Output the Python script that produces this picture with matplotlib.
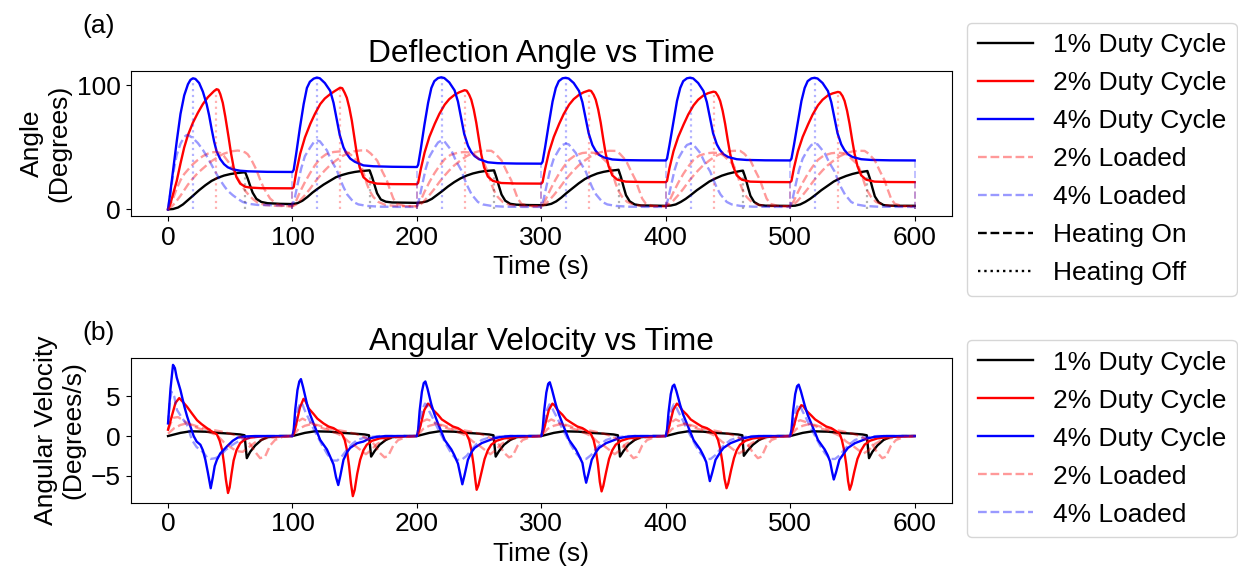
import numpy as np
import matplotlib
matplotlib.use("Agg")
import matplotlib.pyplot as plt
from matplotlib.lines import Line2D

plt.rcParams['font.family'] = ['Liberation Sans', 'DejaVu Sans']
plt.rcParams['font.size'] = 19

# ---------------- data ----------------
cycle_starts = [0, 100, 200, 300, 400, 500]
heat_off_black = 62.0   # s after heating on
heat_off_red = 38.5
heat_off_blue = 20.0

# each series: one list per cycle of (seconds after cycle start, value)
angle_black = [
    [(0,0),(4,0.3),(8,1.5),(12,4),(16,7.5),(20,11),(25,15.5),(30,19.5),(35,23),(40,25.5),(45,27.3),(50,28.5),(55,29.3),(60,29.8),(62,30),(64,25),(66,19),(68,13.5),(71,8.5),(75,6),(80,5),(90,4.5),(98,4.3)],
    [(0,4.3),(4,5),(8,7),(12,10),(16,13.5),(20,16.5),(25,20),(30,23),(35,26),(40,27.8),(45,29.2),(50,30.2),(55,30.9),(60,31.3),(62,31.5),(64,26),(66,19.5),(68,13),(71,8),(75,6.2),(80,5.6),(90,5.4),(98,5.3)],
    [(0,5.3),(4,5.6),(8,6.5),(12,8.5),(16,11.5),(20,14.5),(25,18.5),(30,22),(35,25),(40,27.3),(45,29),(50,30.2),(55,31),(60,31.4),(62,31.5),(64,25.5),(66,18.5),(68,12),(71,7),(75,4.5),(80,3.8),(90,3.5),(98,3.4)],
    [(0,3.4),(4,3.6),(8,4.5),(12,6.5),(16,9.5),(20,13),(25,17),(30,21),(35,24.5),(40,27),(45,29),(50,30.3),(55,31.2),(60,31.7),(62,32),(64,26),(66,18.5),(68,11.5),(71,6.5),(75,4),(80,3.2),(90,3),(98,2.9)],
    [(0,2.9),(4,3.1),(8,4),(12,6),(16,8.5),(20,11.5),(25,15.5),(30,19),(35,22.5),(40,25),(45,27.2),(50,28.8),(55,30),(60,31),(62,31.3),(64,25.5),(66,18),(68,11),(71,6),(75,3.6),(80,3),(90,2.9),(98,2.8)],
    [(0,2.8),(4,3),(8,4),(12,6),(16,8.5),(20,11.5),(25,15.5),(30,19),(35,22.5),(40,25),(45,27),(50,28.6),(55,29.8),(60,30.6),(62,31),(64,25),(66,17.5),(68,10.5),(71,5.8),(75,3.5),(80,3),(90,2.9),(100,2.9)],
]
angle_red = [
    [(0,0),(2,5),(4.5,14),(7,23),(10,37),(13,50),(16,60),(20,70),(24,78),(28,85),(32,90.5),(35,93.5),(37,95.5),(39,97),(40.5,96.5),(42,93),(44,86),(46,75),(48.7,58),(50.5,46),(52.7,34),(55,26),(58,20.8),(62,18.3),(66,17.6),(75,17.1),(98,17)],
    [(0,17),(1,18),(3,30),(6.2,45),(10,58),(14.3,69),(18,77),(22.3,85),(26,89.5),(30.3,93),(34,95.5),(38.3,98.2),(40,97.8),(42,94),(43.7,90),(45.7,82),(47.7,71.6),(49.7,58),(51.7,45),(54,34),(57,26),(61,22.5),(67.8,20.8),(80,20.4),(98,20.3)],
    [(0,20.3),(1,21.5),(3,32),(6.2,46),(10,58.5),(14.3,69),(18,77),(22.3,84.5),(26,89),(30.3,92.5),(34,94.5),(38.3,96.2),(40,95.8),(42,92.5),(43.7,88.5),(45.7,80.5),(47.7,70),(49.7,57),(51.7,44.5),(54,34),(57,26.5),(61,23),(67.8,21.3),(80,20.9),(98,20.8)],
    [(0,20.8),(1,22),(3,32.5),(6.2,46.5),(10,58.5),(14.3,69),(18,77),(22.3,84.5),(26,89),(30.3,92.5),(34,94.5),(38.3,96),(40,95.6),(42,92.5),(43.7,88.5),(45.7,80.5),(47.7,70),(49.7,57),(51.7,45),(54,35),(57,27.5),(61,24),(67.8,22.4),(80,22.1),(98,22)],
    [(0,22),(1,23),(3,33.5),(6.2,47),(10,58.5),(14.3,68.5),(18,76.5),(22.3,84),(26,88.5),(30.3,92),(34,93.8),(38.3,95),(40,94.6),(42,91.5),(43.7,87.5),(45.7,79.5),(47.7,69),(49.7,56.5),(51.7,45),(54,35),(57,27.5),(61,24),(67.8,22.4),(80,22.1),(98,22)],
    [(0,22),(1,23),(3,33.5),(6.2,47),(10,58.5),(14.3,68.5),(18,76.5),(22.3,84),(26,88.5),(30.3,92),(34,93.6),(38.3,94.8),(40,94.4),(42,91.5),(43.7,87.5),(45.7,79.5),(47.7,69),(49.7,56.5),(51.7,45),(54,35),(57,27.5),(61,24),(67.8,22.4),(80,22.1),(100,22)],
]
angle_blue = [
    [(0,0),(2,15),(4.5,35),(7,55),(10,77),(13,92),(16,101),(18,104.5),(20,105.8),(22,105.3),(25,102),(28,95),(31,85),(33,76),(35,65),(37,55),(39,47),(42,40.5),(45,36.5),(48,34),(52,32.3),(58,31.2),(65,30.7),(80,30.3),(98,30.2)],
    [(0,30.2),(1,32),(3,45),(6,66),(9,85),(11.6,98),(14,103),(17,105.5),(19.6,106.4),(22,105.8),(26,102),(30.3,95.7),(33,86),(35.7,72),(38,60),(41,50),(43.5,45),(46.4,41),(50,38.5),(57,35.5),(65,34.8),(80,34.4),(98,34.2)],
    [(0,34.2),(1,36),(3,48),(6,68),(9,86),(11.6,98),(14,103.5),(17,106),(19.6,106.6),(22,106),(26,102.5),(30.3,96),(33,87),(35.7,73),(38,61),(41,51.5),(43.5,46.5),(46.4,43),(50,40.5),(57,38),(65,37.3),(80,37),(98,36.9)],
    [(0,36.9),(1,38.5),(3,50),(6,69),(9,87),(11.6,98),(14,103.5),(17,105.8),(19.6,106.2),(22,105.6),(26,102),(30.3,95.5),(33,86.5),(35.7,73),(38,61.5),(41,52),(43.5,47.5),(46.4,44),(50,42),(57,40.3),(65,39.8),(80,39.6),(98,39.5)],
    [(0,39.5),(1,41),(3,52),(6,70),(9,87.5),(11.6,98),(14,103.5),(17,105.8),(19.6,106.3),(22,105.7),(26,102),(30.3,95.5),(33,86.5),(35.7,73),(38,61.5),(41,52.5),(43.5,48),(46.4,44.5),(50,42.3),(57,40.5),(65,39.9),(80,39.6),(98,39.5)],
    [(0,39.5),(1,41),(3,52),(6,70),(9,87.5),(11.6,98),(14,103.5),(17,105.7),(19.6,106.2),(22,105.6),(26,102),(30.3,95.5),(33,86.5),(35.7,73),(38,61.5),(41,52.5),(43.5,48),(46.4,44.5),(50,42.3),(57,40.5),(65,39.9),(80,39.6),(100,39.5)],
]
angle_red_loaded = [
    [(0,0),(2,4),(4.5,10),(7,17),(10,23.5),(13,28.5),(16,32),(20,36.5),(24,40),(28,43),(32,45),(35,46),(39,46.4),(42,45.5),(45,43),(48,39),(52,33),(56,25),(59,20),(62,15),(65,11.5),(68,8.5),(72,5.5),(78,3.5),(88,2.8),(98,2.5)],
    [(0,2.5),(3,7),(6,14),(10,22),(14,29),(18,35.5),(22.3,41),(27,44.5),(33,46.3),(38,46.8),(43.7,46.3),(47,44),(50,41),(54.4,37),(57,30),(59.7,20.8),(62,15),(65,10),(69,6),(75,3.5),(85,2.6),(98,2.5)],
    [(0,2.5),(3,7),(6,14),(10,22),(14,29),(18,35),(22.3,40.5),(27,44),(33,45.8),(38,46.3),(43.7,45.8),(47,43.5),(50,40.5),(54.4,36.5),(57,30),(59.7,20.8),(62,15),(65,10),(69,6),(75,3.5),(85,2.6),(98,2.5)],
    [(0,2.5),(3,7),(6,13.5),(10,21.5),(14,28.5),(18,34.5),(22.3,40),(27,43.5),(33,45.5),(38,46),(43.7,45.5),(47,43.5),(50,40.5),(54.4,36.5),(57,30),(59.7,20.8),(62,15),(65,10),(69,6),(75,3.5),(85,2.6),(98,2.5)],
    [(0,2.5),(3,7),(6,13.5),(10,21.5),(14,28.5),(18,34.5),(22.3,40),(27,43.5),(33,45.3),(38,45.8),(43.7,45.3),(47,43),(50,40),(54.4,36),(57,29.5),(59.7,20.8),(62,15),(65,10),(69,6),(75,3.5),(85,2.6),(98,2.5)],
    [(0,2.5),(3,7),(6,13.5),(10,21.5),(14,28.5),(18,34.5),(22.3,40),(27,43.5),(33,45.3),(38,45.8),(43.7,45.3),(47,43),(50,40),(54.4,36),(57,29.5),(59.7,20.8),(62,15),(65,10),(69,6),(75,3.5),(85,2.6),(100,2.5)],
]
angle_red_loaded_b = [
    [(0,0),(2,1.5),(4.5,4),(7,7),(10,11),(13,15.5),(16,20),(20,25),(24,29.5),(28,33),(32,36.5),(35,39),(39,41.5),(42,43.5),(45,45),(48,46),(52,47),(56,47.5),(59,47),(62,46),(64,44.5),(67,40),(71,32),(74,24),(77,17),(82,8.8),(87,4.5),(92,3),(98,2.5)],
    [(0,2.5),(3,4),(6,7),(10,11.5),(14,16.5),(18,22),(22,27),(26,31.5),(30,35.5),(35,39.5),(40,43),(45,45.5),(50,47),(55,47.6),(59.8,47.6),(63,45),(68,39.5),(72,31),(75.8,23.5),(78,17),(81,8.8),(84,4.5),(90,2.8),(98,2.5)],
    [(0,2.5),(3,4),(6,7),(10,11.5),(14,16.5),(18,22),(22,27),(26,31.5),(30,35.5),(35,39.5),(40,43),(45,45.5),(50,47),(55,47.4),(59.8,47.3),(63,45),(68,39.5),(72,31),(75.8,23.5),(78,17),(81,8.8),(84,4.5),(90,2.8),(98,2.5)],
    [(0,2.5),(3,4),(6,7),(10,11.5),(14,16.5),(18,22),(22,27),(26,31.5),(30,35.5),(35,39.5),(40,43),(45,45.3),(50,46.8),(55,47.3),(59.8,47.2),(63,45),(68,39.5),(72,31),(75.8,23.5),(78,17),(81,8.8),(84,4.5),(90,2.8),(98,2.5)],
    [(0,2.5),(3,4),(6,7),(10,11.5),(14,16.5),(18,22),(22,27),(26,31.5),(30,35.5),(35,39.5),(40,43),(45,45.3),(50,46.8),(55,47.3),(59.8,47.2),(63,45),(68,39.5),(72,31),(75.8,23.5),(78,17),(81,8.8),(84,4.5),(90,2.8),(98,2.5)],
    [(0,2.5),(3,4),(6,7),(10,11.5),(14,16.5),(18,22),(22,27),(26,31.5),(30,35.5),(35,39.5),(40,43),(45,45.3),(50,46.8),(55,47.3),(59.8,47.2),(63,45),(68,39.5),(72,31),(75.8,23.5),(78,17),(81,8.8),(84,4.5),(90,2.8),(100,2.5)],
]
angle_blue_loaded = [
    [(0,0),(2,14),(4.5,31),(7,44),(10,53),(13,58.5),(15,60),(17,59.5),(20,57.5),(24,53.5),(28,48),(32,41.5),(35,36),(39,28.5),(42,23.5),(45,19),(48,15),(52,11.5),(56,8.5),(60,6),(65,4.5),(72,3.6),(85,3.3),(98,3.3)],
    [(0,3.3),(2,10),(4.5,22),(7,33),(10,43),(14.3,50),(17,54),(19.6,55.6),(22,55),(27.7,47.6),(31,40),(35.7,31.5),(38,25),(41,18),(44,12),(49,6),(53,4),(60,2.8),(70,2.2),(85,2),(98,2)],
    [(0,2),(2,9),(4.5,21),(7,32.5),(10,42.5),(14.3,50),(17,54),(19.6,55.5),(22,55),(27.7,47.6),(31,40),(35.7,31.5),(38,25),(41,18),(44,12),(49,6),(53,4),(60,2.8),(70,2.2),(85,2),(98,2)],
    [(0,2),(2,9),(4.5,20.5),(7,31.5),(10,41),(14.3,48.5),(17,52),(19.6,53),(22,52.5),(27.7,45.5),(31,38.5),(35.7,30.5),(38,24.5),(41,17.5),(44,12),(49,6),(53,4),(60,2.8),(70,2.2),(85,2),(98,2)],
    [(0,2),(2,9),(4.5,20.5),(7,31.5),(10,41),(14.3,48.5),(17,52),(19.6,53),(22,52.5),(27.7,45.5),(31,38.5),(35.7,30.5),(38,24.5),(41,17.5),(44,12),(49,6),(53,4),(60,2.8),(70,2.2),(85,2),(98,2)],
    [(0,2),(2,9),(4.5,20.5),(7,31.5),(10,41),(14.3,48.5),(17,52),(19.6,53),(22,52.5),(27.7,45.5),(31,38.5),(35.7,30.5),(38,24.5),(41,17.5),(44,12),(49,6),(53,4),(60,2.8),(70,2.2),(85,2),(100,2)],
]

vel_black = [
    [(0,0),(5,0.2),(10,0.4),(18,0.6),(30,0.55),(40,0.4),(50,0.3),(58,0.2),(61.5,0.1),(63.3,-2.8),(66,-2.0),(70,-1.2),(75,-0.5),(80,-0.15),(90,0),(98,0)],
    [(0,0),(5,0.2),(10,0.4),(18,0.6),(30,0.55),(40,0.4),(50,0.3),(58,0.2),(61.5,0.1),(63.2,-2.6),(66,-1.9),(70,-1.1),(75,-0.5),(80,-0.15),(90,0),(98,0)],
    [(0,0),(5,0.2),(10,0.4),(18,0.6),(30,0.55),(40,0.4),(50,0.3),(58,0.2),(61.5,0.1),(63.3,-2.6),(66,-1.9),(70,-1.1),(75,-0.5),(80,-0.15),(90,0),(98,0)],
    [(0,0),(5,0.2),(10,0.4),(18,0.6),(30,0.55),(40,0.4),(50,0.3),(58,0.2),(61.5,0.1),(63.2,-2.6),(66,-1.9),(70,-1.1),(75,-0.5),(80,-0.15),(90,0),(98,0)],
    [(0,0),(5,0.2),(10,0.4),(18,0.6),(30,0.55),(40,0.4),(50,0.3),(58,0.2),(61.5,0.1),(62.7,-2.5),(66,-1.8),(70,-1.1),(75,-0.5),(80,-0.15),(90,0),(98,0)],
    [(0,0),(5,0.2),(10,0.4),(18,0.6),(30,0.55),(40,0.4),(50,0.3),(58,0.2),(61.5,0.1),(63.3,-2.8),(66,-2.0),(70,-1.2),(75,-0.5),(80,-0.15),(90,0),(100,0)],
]
vel_red = [
    [(0,0.8),(3,2.5),(6,4.2),(9,4.8),(12,4.3),(15.3,3.7),(19,2.9),(23.3,2.0),(27,1.5),(31.3,1.0),(35,0.6),(39.3,0.2),(41.5,-0.6),(43.4,-1.7),(45,-3.5),(46.5,-5.5),(48.2,-7.2),(49.5,-6.5),(51,-4.8),(52.7,-3.1),(55,-1.8),(58,-0.9),(62,-0.4),(66,-0.2),(75,-0.05),(98,0)],
    [(0,0),(1,0.3),(3,1.5),(6,3.6),(8.9,4.7),(10.5,4.4),(13,3.5),(16.9,2.8),(20,2.2),(24.9,1.6),(29,1.2),(33,1.0),(37,0.6),(39.7,0.3),(42,-0.5),(43.7,-1.7),(45.5,-3.8),(47,-6.0),(48.5,-7.6),(50,-6.8),(52,-4.8),(54.4,-3.0),(57,-1.8),(59.7,-1.1),(64,-0.6),(70,-0.3),(80,-0.1),(98,0)],
    [(0,0),(1,0.3),(3,1.4),(6,3.3),(8.9,4.1),(10.5,3.9),(13,3.3),(16.9,2.7),(20,2.1),(24.9,1.6),(29,1.2),(33,1.0),(37,0.6),(39.7,0.3),(42,-0.5),(43.7,-1.7),(45.5,-3.6),(47,-5.6),(48,-6.8),(49.5,-6.2),(52,-4.5),(54.4,-2.9),(57,-1.8),(59.7,-1.1),(64,-0.6),(70,-0.3),(80,-0.1),(98,0)],
    [(0,0),(1,0.3),(3,1.4),(6,3.3),(8.9,4.1),(10.5,3.9),(13,3.3),(16.9,2.7),(20,2.1),(24.9,1.6),(29,1.2),(33,1.0),(37,0.6),(39.7,0.3),(42,-0.5),(43.7,-1.7),(45.5,-3.6),(47,-5.8),(48.4,-7.0),(49.8,-6.3),(52,-4.6),(54.4,-2.9),(57,-1.8),(59.7,-1.1),(64,-0.6),(70,-0.3),(80,-0.1),(98,0)],
    [(0,0),(1,0.3),(3,1.4),(6,3.3),(8.9,4.1),(10.5,3.9),(13,3.3),(16.9,2.7),(20,2.1),(24.9,1.6),(29,1.2),(33,1.0),(37,0.6),(39.7,0.3),(42,-0.5),(43.7,-1.6),(45.5,-3.3),(47.2,-5.4),(48.8,-6.6),(50.2,-6.0),(52.5,-4.3),(54.8,-2.8),(57,-1.8),(59.7,-1.1),(64,-0.6),(70,-0.3),(80,-0.1),(98,0)],
    [(0,0),(1,0.3),(3,1.3),(6,3.1),(8.9,3.9),(10.5,3.8),(13,3.2),(16.9,2.6),(20,2.1),(24.9,1.6),(29,1.2),(33,1.0),(37,0.6),(39.7,0.3),(41.5,-0.5),(43.2,-1.7),(45,-3.6),(46.5,-5.7),(47.8,-6.8),(49.3,-6.1),(51.5,-4.5),(54,-2.9),(57,-1.8),(59.7,-1.1),(64,-0.6),(70,-0.3),(80,-0.1),(100,0)],
]
vel_blue = [
    [(0,1.6),(2,6),(4,9.0),(5.5,8.6),(7,7.4),(10,5.8),(13,3.8),(15.3,2.5),(18,1.2),(20.6,0),(23,-0.7),(26,-1.1),(28,-1.8),(30,-3.0),(32,-4.6),(34.3,-6.6),(36,-5.2),(37.5,-3.8),(39.3,-3.0),(42,-2.2),(47.4,-1.3),(52,-0.6),(56,-0.2),(62,-0.05),(70,0),(98,0)],
    [(0,0),(1,0.8),(2.2,3.3),(4,5.8),(5.5,6.9),(6.8,7.2),(8.5,6.2),(11.6,4.1),(14,2.8),(16.9,1.6),(20,0.4),(22.3,-0.5),(25,-1.1),(27.7,-1.7),(30,-2.5),(33,-3.6),(35,-5.2),(36.8,-6.2),(38.5,-5.0),(41,-3.0),(44,-2.0),(46.4,-1.5),(52,-0.9),(57,-0.7),(62,-0.3),(67.8,-0.1),(75,0),(98,0)],
    [(0,0),(1,0.8),(2.2,3.2),(4,5.6),(5.5,6.7),(6.8,6.9),(8.5,6.0),(11.6,4.0),(14,2.8),(16.9,1.6),(20,0.4),(22.3,-0.5),(25,-1.1),(27.7,-1.7),(30,-2.4),(33,-3.5),(35,-5.0),(36.5,-6.1),(38.2,-5.0),(41,-3.0),(44,-2.0),(46.4,-1.5),(52,-0.9),(57,-0.6),(62,-0.3),(67.8,-0.1),(75,0),(98,0)],
    [(0,0),(1,0.8),(2.2,3.1),(4,5.5),(5.5,6.6),(6.8,6.8),(8.5,5.9),(11.6,4.0),(14,2.8),(16.9,1.6),(20,0.4),(22.3,-0.5),(25,-1.1),(27.7,-1.7),(30,-2.4),(33,-3.4),(34.5,-4.8),(36,-5.9),(37.8,-4.8),(40.5,-3.0),(44,-2.0),(46.4,-1.5),(52,-0.9),(57,-0.6),(62,-0.3),(67.8,-0.1),(75,0),(98,0)],
    [(0,0),(1,0.8),(2.2,3.0),(4,5.3),(5.5,6.3),(6.8,6.5),(8.5,5.7),(11.6,3.9),(14,2.7),(16.9,1.6),(20,0.4),(22.3,-0.5),(25,-1.1),(27.7,-1.7),(30,-2.4),(32.5,-3.3),(34,-4.6),(35.4,-5.7),(37.2,-4.7),(40,-3.0),(44,-2.0),(46.4,-1.5),(52,-0.9),(57,-0.6),(62,-0.3),(67.8,-0.1),(75,0),(98,0)],
    [(0,0),(1,0.8),(2.2,3.0),(4,5.3),(5.5,6.3),(6.8,6.5),(8.5,5.7),(11.6,3.9),(14,2.7),(16.9,1.6),(20,0.4),(22.3,-0.5),(25,-1.1),(27.7,-1.7),(30,-2.4),(32,-3.2),(33.6,-4.5),(35,-5.5),(36.8,-4.6),(39.5,-3.0),(44,-2.0),(46.4,-1.5),(52,-0.9),(57,-0.6),(62,-0.3),(67.8,-0.1),(75,0),(100,0)],
]
vel_red_loaded = [
    [(0,0.8),(4,2.3),(8,2.4),(12,2.0),(18,1.4),(24,1.0),(30,0.7),(36,0.3),(40,0),(45,-0.8),(50,-1.4),(55,-1.9),(60,-2.0),(65,-1.4),(70,-0.8),(78,-0.3),(90,-0.1),(98,0)],
    [(0,0),(4,1.8),(8,2.2),(12,1.9),(18,1.4),(24,1.0),(30,0.7),(36,0.3),(40,0),(45,-0.7),(50,-1.2),(55,-1.8),(59,-2.3),(63,-1.8),(68,-1.0),(75,-0.4),(88,-0.1),(98,0)],
    [(0,0),(4,1.8),(8,2.1),(12,1.9),(18,1.4),(24,1.0),(30,0.7),(36,0.3),(40,0),(45,-0.7),(50,-1.2),(55,-1.8),(59,-2.3),(63,-1.8),(68,-1.0),(75,-0.4),(88,-0.1),(98,0)],
    [(0,0),(4,1.7),(8,2.1),(12,1.8),(18,1.4),(24,1.0),(30,0.7),(36,0.3),(40,0),(45,-0.7),(50,-1.2),(55,-1.8),(59,-2.3),(63,-1.8),(68,-1.0),(75,-0.4),(88,-0.1),(98,0)],
    [(0,0),(4,1.7),(8,2.1),(12,1.8),(18,1.4),(24,1.0),(30,0.7),(36,0.3),(40,0),(45,-0.7),(50,-1.2),(55,-1.8),(59,-2.2),(63,-1.8),(68,-1.0),(75,-0.4),(88,-0.1),(98,0)],
    [(0,0),(4,1.7),(8,2.0),(12,1.8),(18,1.4),(24,1.0),(30,0.7),(36,0.3),(40,0),(45,-0.7),(50,-1.2),(55,-1.8),(59,-2.2),(63,-1.8),(68,-1.0),(75,-0.4),(88,-0.1),(100,0)],
]
vel_red_loaded_b = [
    [(0,0.3),(5,1.0),(10,1.4),(15,1.6),(20,1.4),(28,1.0),(35,0.8),(42,0.6),(50,0.3),(56,0),(62,-0.4),(66,-1.0),(70,-2.0),(74,-2.8),(78,-2.6),(82,-1.2),(86,-0.5),(92,-0.1),(98,0)],
    [(0,0),(5,0.9),(10,1.3),(15,1.5),(20,1.4),(28,1.0),(35,0.8),(42,0.6),(50,0.3),(56,0),(62,-0.5),(66,-1.1),(70,-2.1),(74,-2.7),(77,-2.5),(81,-1.2),(85,-0.5),(92,-0.1),(98,0)],
    [(0,0),(5,0.9),(10,1.3),(15,1.5),(20,1.4),(28,1.0),(35,0.8),(42,0.6),(50,0.3),(56,0),(62,-0.5),(66,-1.1),(70,-2.1),(74,-2.7),(77,-2.5),(81,-1.2),(85,-0.5),(92,-0.1),(98,0)],
    [(0,0),(5,0.9),(10,1.3),(15,1.5),(20,1.4),(28,1.0),(35,0.8),(42,0.6),(50,0.3),(56,0),(62,-0.5),(66,-1.1),(70,-2.1),(74,-2.8),(77,-2.6),(81,-1.2),(85,-0.5),(92,-0.1),(98,0)],
    [(0,0),(5,0.9),(10,1.3),(15,1.5),(20,1.4),(28,1.0),(35,0.8),(42,0.6),(50,0.3),(56,0),(62,-0.5),(66,-1.1),(70,-2.1),(74,-2.8),(77,-2.6),(81,-1.2),(85,-0.5),(92,-0.1),(98,0)],
    [(0,0),(5,0.9),(10,1.3),(15,1.5),(20,1.4),(28,1.0),(35,0.8),(42,0.6),(50,0.3),(56,0),(62,-0.5),(66,-1.1),(70,-2.1),(74,-2.8),(77,-2.6),(81,-1.2),(85,-0.5),(92,-0.1),(100,0)],
]
vel_blue_loaded = [
    [(0,1.5),(1.5,4.5),(2.8,5.6),(5,5.0),(7.2,3.3),(10,2.6),(13,1.9),(15.3,1.4),(17,0.6),(19.2,-0.5),(23,-1.4),(28.6,-2.1),(31.3,-2.7),(34,-2.9),(38,-2.8),(42,-2.5),(46,-1.8),(50,-1.3),(55,-0.8),(60,-0.4),(70,-0.1),(80,0),(98,0)],
    [(0,0),(2,1.5),(4.5,3.5),(6.5,4.2),(8,4.0),(10,3.2),(13,2.2),(16,1.2),(20,0),(24,-1.2),(28,-2.3),(32,-3.1),(36,-3.1),(40,-2.5),(44,-1.7),(48,-1.0),(52,-0.5),(58,-0.2),(70,0),(98,0)],
    [(0,0),(2,1.5),(4.5,3.4),(6.5,4.1),(8,3.9),(10,3.1),(13,2.2),(16,1.2),(20,0),(24,-1.2),(28,-2.3),(32,-3.0),(36,-3.0),(40,-2.5),(44,-1.7),(48,-1.0),(52,-0.5),(58,-0.2),(70,0),(98,0)],
    [(0,0),(2,1.4),(4.5,3.3),(6.5,4.0),(8,3.8),(10,3.1),(13,2.2),(16,1.2),(20,0),(24,-1.2),(28,-2.2),(32,-2.9),(36,-2.9),(40,-2.4),(44,-1.6),(48,-1.0),(52,-0.5),(58,-0.2),(70,0),(98,0)],
    [(0,0),(2,1.4),(4.5,3.3),(6.5,4.0),(8,3.8),(10,3.1),(13,2.2),(16,1.2),(20,0),(24,-1.2),(28,-2.2),(32,-2.9),(36,-2.9),(40,-2.4),(44,-1.6),(48,-1.0),(52,-0.5),(58,-0.2),(70,0),(98,0)],
    [(0,0),(2,1.4),(4.5,3.3),(6.5,4.0),(8,3.8),(10,3.1),(13,2.2),(16,1.2),(20,0),(24,-1.2),(28,-2.2),(32,-2.9),(36,-2.9),(40,-2.4),(44,-1.6),(48,-1.0),(52,-0.5),(58,-0.2),(70,0),(100,0)],
]

heating_on_times = [0, 100, 200, 300, 400, 500, 600]
x_ticks = [0, 100, 200, 300, 400, 500, 600]


def build(cycles):
    t, y = [], []
    for start, cyc in zip(cycle_starts, cycles):
        for tau, v in cyc:
            t.append(start + tau)
            y.append(v)
    return np.array(t), np.array(y)


W, H = 1238, 568
fig = plt.figure(figsize=(W / 100, H / 100), dpi=100)
ax1 = fig.add_axes([130.7 / W, 1 - 216 / H, (952 - 130.7) / W, (216 - 70.7) / H])
ax2 = fig.add_axes([130.7 / W, 1 - 502.7 / H, (952 - 130.7) / W, (502.7 - 358.3) / H])

LW = 1.7
ALPHA_L = 0.4
LEG_KW = dict(loc='upper left', bbox_transform=fig.transFigure, borderaxespad=0,
              handlelength=2.1, handletextpad=0.75, labelspacing=0.53, borderpad=0.4)

tb, yb = build(angle_black)
tr, yr = build(angle_red)
tu, yu = build(angle_blue)
trl, yrl = build(angle_red_loaded)
trl2, yrl2 = build(angle_red_loaded_b)
tul, yul = build(angle_blue_loaded)

ax1.plot(tb, yb, color='black', lw=LW, label='1% Duty Cycle')
ax1.plot(tr, yr, color='red', lw=LW, label='2% Duty Cycle')
ax1.plot(tu, yu, color='blue', lw=LW, label='4% Duty Cycle')
ax1.plot(trl, yrl, color='red', lw=LW, ls='--', alpha=ALPHA_L, label='2% Loaded')
ax1.plot(tul, yul, color='blue', lw=LW, ls='--', alpha=ALPHA_L, label='4% Loaded')
ax1.plot(trl2, yrl2, color='red', lw=LW, ls='--', alpha=ALPHA_L)

# heating markers (vertical lines from 0 up to the curve)
for (tt, yy, col, toff) in [(tb, yb, 'black', heat_off_black), (tr, yr, 'red', heat_off_red),
                            (tu, yu, 'blue', heat_off_blue)]:
    on_vals = np.interp(heating_on_times, tt, yy)
    ax1.vlines(heating_on_times, 0, on_vals, colors=col, linestyles='--', lw=1.4, alpha=0.25)
    offs = [s + toff for s in cycle_starts]
    off_vals = np.interp(offs, tt, yy)
    ax1.vlines(offs, 0, off_vals, colors=col, linestyles=':', lw=1.6, alpha=0.3)

ax1.set_xticks(x_ticks)
ax1.set_yticks([0, 100])
ax1.set_xlabel('Time (s)')
ax1.set_ylabel('Angle\n(Degrees)')
ax1.set_title('Deflection Angle vs Time', fontsize=22.8)

handles, labels = ax1.get_legend_handles_labels()
handles += [Line2D([], [], color='black', ls='--', lw=LW), Line2D([], [], color='black', ls=':', lw=LW)]
labels += ['Heating On', 'Heating Off']
fig.legend(handles, labels, bbox_to_anchor=(967 / W, 1 - 22.7 / H), **LEG_KW)

for cyc, col, ls, al, lab in [(vel_black, 'black', '-', 1, '1% Duty Cycle'),
                              (vel_red, 'red', '-', 1, '2% Duty Cycle'),
                              (vel_blue, 'blue', '-', 1, '4% Duty Cycle'),
                              (vel_red_loaded, 'red', '--', ALPHA_L, '2% Loaded'),
                              (vel_blue_loaded, 'blue', '--', ALPHA_L, '4% Loaded'),
                              (vel_red_loaded_b, 'red', '--', ALPHA_L, None)]:
    t, y = build(cyc)
    ax2.plot(t, y, color=col, ls=ls, lw=LW, alpha=al, label=lab)

ax2.set_xticks(x_ticks)
ax2.set_yticks([-5, 0, 5])
ax2.set_xlabel('Time (s)')
ax2.set_ylabel('Angular Velocity\n(Degrees/s)')
ax2.set_title('Angular Velocity vs Time', fontsize=22.8)
h2, l2 = ax2.get_legend_handles_labels()
fig.legend(h2, l2, bbox_to_anchor=(967 / W, 1 - 340 / H), **LEG_KW)

fig.text(82 / W, 1 - 26 / H, '(a)', va='center', ha='left')
fig.text(82 / W, 1 - 333 / H, '(b)', va='center', ha='left')

fig.savefig('out.png', dpi=100)
